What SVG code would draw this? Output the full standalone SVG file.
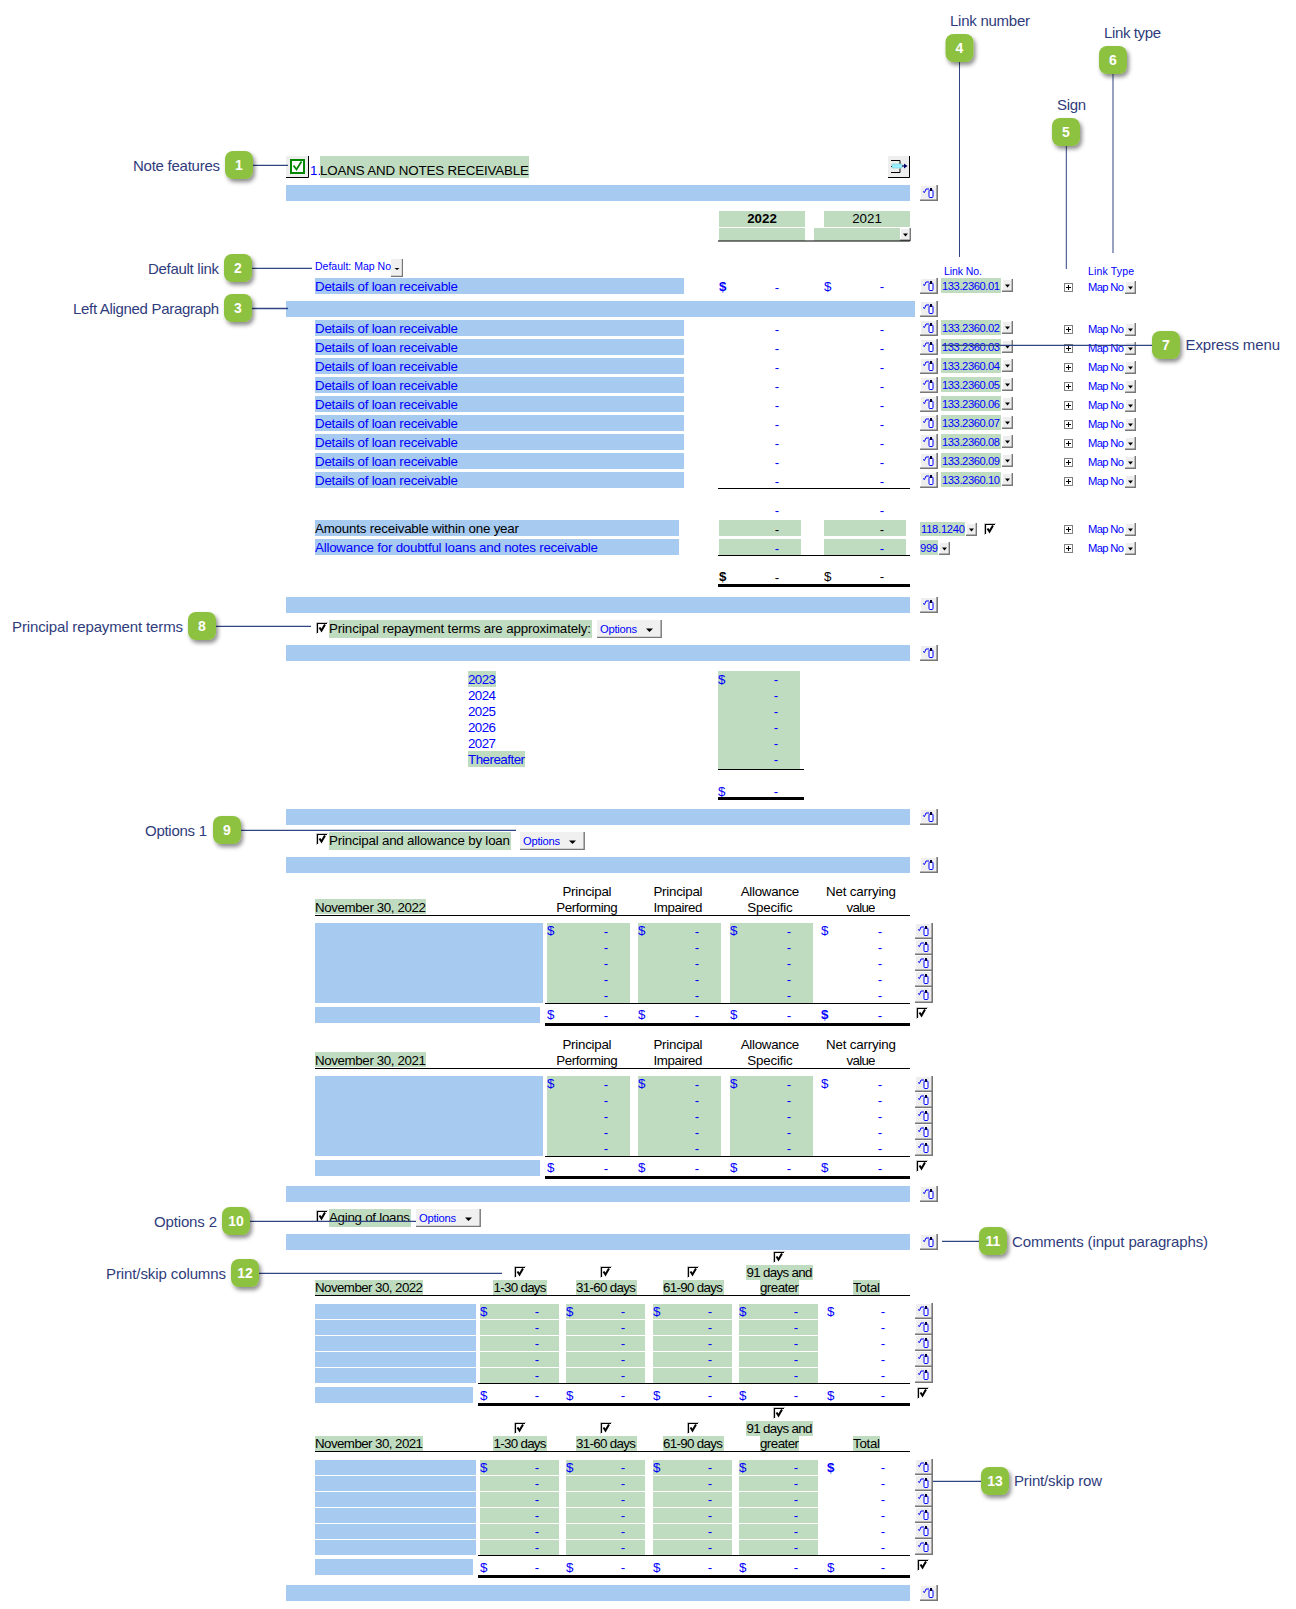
<svg xmlns="http://www.w3.org/2000/svg" width="1296" height="1609" viewBox="0 0 1296 1609">
<style>
text{font-family:"Liberation Sans",Arial,sans-serif;font-size:13.33px;fill:#000}
.b{fill:#00f}
.s{font-size:10.5px;fill:#00f}
.n{font-size:11.2px;fill:#00f}
.l{font-size:15px;fill:#2f3c7c}
.d{fill:#00f;text-anchor:middle}
.k{fill:#000;text-anchor:middle}
.c{text-anchor:middle}
.h{font-weight:bold}
.num{font-size:14px;font-weight:bold;fill:#fff;text-anchor:middle}
.blue{fill:#a6caf0}
.green{fill:#c0dcc0}
.line{fill:#000}
.conn{stroke:#2f4482;stroke-width:1.3;fill:none}
.bub{fill:#8dc13f;filter:url(#sh)}
</style>
<defs>
<filter id="sh" x="-30%" y="-30%" width="170%" height="170%"><feDropShadow dx="2" dy="3" stdDeviation="2" flood-color="#000" flood-opacity=".45"/></filter>
<g id="m"><rect width="18" height="16" fill="#eee"/><path d="M.5 16V.5H18" fill="none" stroke="#fff"/><path d="M0 15.200H17.200V0" fill="none" stroke="#777" stroke-width="1.600"/><path d="M3 6.500l1.500 1 1.500-3.500H9" fill="none" stroke="#00f" stroke-width="1"/><rect x="9" y="5" width="4" height="7.500" rx="1" fill="#fff" stroke="#00f"/><rect x="10" y="3" width="2" height="3" fill="#003"/></g>
<g id="dr"><rect width="11" height="13" fill="#eee"/><path d="M.5 13V.5H11" fill="none" stroke="#fff"/><path d="M0 12.300H10.300V0" fill="none" stroke="#777" stroke-width="1.400"/><path d="M3 5.500h5l-2.500 3z" fill="#000"/></g>
<g id="p"><rect x=".5" y=".5" width="8" height="8" fill="#fff" stroke="#808080"/><path d="M2 4.500h5M4.500 2v5" stroke="#000"/></g>
<g id="ck"><rect width="12" height="12" fill="#fff"/><path d="M.5 12V.5H12" fill="none" stroke="#c8c8c8"/><path d="M1.500 11V1.500H11" fill="none" stroke="#000" stroke-width="1.200"/><path d="M3.500 5.500l2 3 3.500-6" fill="none" stroke="#000" stroke-width="2"/></g>
<g id="agerow"><rect class="blue" x="315" width="161" height="15"/><rect class="green" x="480" width="79" height="15"/><rect class="green" x="566" width="79" height="15"/><rect class="green" x="653" width="79" height="15"/><rect class="green" x="739" width="79" height="15"/></g>
<g id="linkrow"><rect class="green" x="941" width="60" height="15"/><use href="#m" x="920"/><use href="#dr" x="1002" y="1"/><use href="#p" x="1064" y="5"/><use href="#dr" x="1125" y="3"/></g>
<g id="optbtn"><rect width="65" height="18" fill="#f0f0f0"/><path d="M0 17.400H64.200V0" fill="none" stroke="#777" stroke-width="1.400"/><path d="M49 8.500h7l-3.500 3.500z" fill="#000"/></g>
</defs>
<rect width="1296" height="1609" fill="#fff"/>

<g id="sheet-head">
<rect x="286" y="156" width="23" height="22" fill="#eee"/><path d="M308.500 156V177.500H286" fill="none" stroke="#000"/>
<rect x="291" y="160" width="13" height="13" fill="#fff" stroke="#080" stroke-width="2"/><path d="M293.500 165.500l3 4 5-8" fill="none" stroke="#080" stroke-width="1.800"/>
<text class="b" x="310" y="175">1.</text>
<rect class="green" x="320" y="156" width="209" height="22"/>
<text x="320" y="175" textLength="209">LOANS AND NOTES RECEIVABLE</text>
<rect x="888" y="156" width="22" height="22" fill="#eee"/><path d="M909.500 156V177.500H888" fill="none" stroke="#000"/>
<path d="M891 160.500h9v3.500M891 172.500h9v-4M894 166.500h-3" fill="none" stroke="#000"/><rect x="892" y="164" width="10" height="4" fill="#9ef" stroke="#6cc" stroke-width=".5"/><path d="M902 166h3" stroke="#006" stroke-width="1.200"/><path d="M904 163.500l3.500 2.500-3.500 2.500z" fill="#006"/>
<rect class="blue" x="286" y="185" width="624" height="16"/><use href="#m" x="920" y="185"/>
<rect class="green" x="719" y="211" width="86" height="16"/><rect class="green" x="824" y="211" width="86" height="16"/>
<rect class="green" x="719" y="228" width="86" height="13"/><rect class="green" x="814" y="228" width="86" height="13"/>
<use href="#dr" x="900" y="228"/>
<rect class="line" x="718" y="240.500" width="192" height="1"/>
<text class="c h" x="762" y="223">2022</text><text class="c" x="867" y="223">2021</text>
</g>

<g id="details">
<text class="s" x="315" y="270" textLength="76">Default: Map No</text>
<rect x="391" y="259" width="12" height="18" fill="#f0f0f0"/><path d="M391 276.400H402.400V259" fill="none" stroke="#777" stroke-width="1.200"/><path d="M394.500 268h5l-2.500 2z" fill="#000"/>
<text class="s" x="944" y="275" textLength="38">Link No.</text>
<text class="s" x="1088" y="275" textLength="46">Link Type</text>

<rect class="blue" x="315" y="278" width="369" height="16"/>
<text class="b" x="315" y="291" textLength="143">Details of loan receivable</text>
<text class="b h" x="719" y="291">$</text><text class="d" x="777" y="292">-</text><text class="b" x="824" y="291">$</text><text class="d" x="882" y="291">-</text>
<use href="#linkrow" y="278"/><text class="n" x="942" y="290" textLength="58">133.2360.01</text><text class="n" x="1088" y="291" textLength="36">Map No</text>
<rect class="blue" x="286" y="301" width="629" height="16"/><use href="#m" x="920" y="301"/>

<rect class="blue" x="315" y="320" width="369" height="16"/><text class="b" x="315" y="333" textLength="143">Details of loan receivable</text><text class="d" x="777" y="334">-</text><text class="d" x="882" y="334">-</text><use href="#linkrow" y="320"/><text class="n" x="942" y="332" textLength="58">133.2360.02</text><text class="n" x="1088" y="333" textLength="36">Map No</text>
<rect class="blue" x="315" y="339" width="369" height="16"/><text class="b" x="315" y="352" textLength="143">Details of loan receivable</text><text class="d" x="777" y="353">-</text><text class="d" x="882" y="353">-</text><use href="#linkrow" y="339"/><text class="n" x="942" y="351" textLength="58">133.2360.03</text><text class="n" x="1088" y="352" textLength="36">Map No</text>
<rect class="blue" x="315" y="358" width="369" height="16"/><text class="b" x="315" y="371" textLength="143">Details of loan receivable</text><text class="d" x="777" y="372">-</text><text class="d" x="882" y="372">-</text><use href="#linkrow" y="358"/><text class="n" x="942" y="370" textLength="58">133.2360.04</text><text class="n" x="1088" y="371" textLength="36">Map No</text>
<rect class="blue" x="315" y="377" width="369" height="16"/><text class="b" x="315" y="390" textLength="143">Details of loan receivable</text><text class="d" x="777" y="391">-</text><text class="d" x="882" y="391">-</text><use href="#linkrow" y="377"/><text class="n" x="942" y="389" textLength="58">133.2360.05</text><text class="n" x="1088" y="390" textLength="36">Map No</text>
<rect class="blue" x="315" y="396" width="369" height="16"/><text class="b" x="315" y="409" textLength="143">Details of loan receivable</text><text class="d" x="777" y="410">-</text><text class="d" x="882" y="410">-</text><use href="#linkrow" y="396"/><text class="n" x="942" y="408" textLength="58">133.2360.06</text><text class="n" x="1088" y="409" textLength="36">Map No</text>
<rect class="blue" x="315" y="415" width="369" height="16"/><text class="b" x="315" y="428" textLength="143">Details of loan receivable</text><text class="d" x="777" y="429">-</text><text class="d" x="882" y="429">-</text><use href="#linkrow" y="415"/><text class="n" x="942" y="427" textLength="58">133.2360.07</text><text class="n" x="1088" y="428" textLength="36">Map No</text>
<rect class="blue" x="315" y="434" width="369" height="16"/><text class="b" x="315" y="447" textLength="143">Details of loan receivable</text><text class="d" x="777" y="448">-</text><text class="d" x="882" y="448">-</text><use href="#linkrow" y="434"/><text class="n" x="942" y="446" textLength="58">133.2360.08</text><text class="n" x="1088" y="447" textLength="36">Map No</text>
<rect class="blue" x="315" y="453" width="369" height="16"/><text class="b" x="315" y="466" textLength="143">Details of loan receivable</text><text class="d" x="777" y="467">-</text><text class="d" x="882" y="467">-</text><use href="#linkrow" y="453"/><text class="n" x="942" y="465" textLength="58">133.2360.09</text><text class="n" x="1088" y="466" textLength="36">Map No</text>
<rect class="blue" x="315" y="472" width="369" height="16"/><text class="b" x="315" y="485" textLength="143">Details of loan receivable</text><text class="d" x="777" y="486">-</text><text class="d" x="882" y="486">-</text><use href="#linkrow" y="472"/><text class="n" x="942" y="484" textLength="58">133.2360.10</text><text class="n" x="1088" y="485" textLength="36">Map No</text>
<rect class="line" x="718" y="488" width="192" height="1"/>
<text class="d" x="777" y="515">-</text><text class="d" x="882" y="515">-</text>

<rect class="blue" x="315" y="520" width="364" height="16"/><text x="315" y="533" textLength="204">Amounts receivable within one year</text>
<rect class="green" x="719" y="520" width="82" height="16"/><rect class="green" x="824" y="520" width="82" height="16"/><text class="k" x="777" y="534">-</text><text class="k" x="882" y="534">-</text>
<rect class="green" x="920" y="522" width="45" height="14"/><text class="n" x="921" y="533" textLength="44">118.1240</text><use href="#dr" x="966" y="523"/><use href="#ck" x="984" y="523"/><use href="#p" x="1064" y="525"/><text class="n" x="1088" y="533" textLength="36">Map No</text><use href="#dr" x="1125" y="523"/>
<rect class="blue" x="315" y="539" width="364" height="16"/><text class="b" x="315" y="552" textLength="283">Allowance for doubtful loans and notes receivable</text>
<rect class="green" x="719" y="539" width="82" height="16"/><rect class="green" x="824" y="539" width="82" height="16"/><text class="d" x="777" y="553">-</text><text class="d" x="882" y="553">-</text>
<rect class="green" x="920" y="540" width="18" height="15"/><text class="n" x="920" y="552" textLength="18">999</text><use href="#dr" x="939" y="542"/><use href="#p" x="1064" y="544"/><text class="n" x="1088" y="552" textLength="36">Map No</text><use href="#dr" x="1125" y="542"/>
<rect class="line" x="718" y="555" width="192" height="1"/>
<text class="h" x="719" y="581">$</text><text class="k" x="777" y="582">-</text><text x="824" y="581">$</text><text class="k" x="882" y="581">-</text>
<rect class="line" x="718" y="584" width="192" height="3"/>
<rect class="blue" x="286" y="597" width="624" height="16"/><use href="#m" x="920" y="597"/>
</g>

<g id="repayment">
<use href="#ck" x="316" y="622"/>
<rect class="green" x="329" y="620" width="263" height="18"/><text x="329" y="633" textLength="262">Principal repayment terms are approximately:</text>
<use href="#optbtn" x="597" y="620"/><text class="n" x="600" y="633" textLength="37">Options</text>
<rect class="blue" x="286" y="645" width="624" height="16"/><use href="#m" x="920" y="645"/>
<rect class="green" x="468" y="671" width="28" height="16"/><rect class="green" x="468" y="751" width="57" height="16"/>
<text class="b" x="468" y="684" textLength="28">2023</text><text class="b" x="468" y="700" textLength="28">2024</text><text class="b" x="468" y="716" textLength="28">2025</text><text class="b" x="468" y="732" textLength="28">2026</text><text class="b" x="468" y="748" textLength="28">2027</text><text class="b" x="468" y="764" textLength="57">Thereafter</text>
<rect class="green" x="718" y="671" width="82" height="98"/>
<text class="b" x="718" y="684">$</text><text class="d" x="776" y="684">-</text><text class="d" x="776" y="700">-</text><text class="d" x="776" y="716">-</text><text class="d" x="776" y="732">-</text><text class="d" x="776" y="748">-</text><text class="d" x="776" y="764">-</text>
<rect class="line" x="718" y="769" width="86" height="1"/>
<text class="b" x="718" y="796">$</text><text class="d" x="776" y="796">-</text>
<rect class="line" x="718" y="797" width="86" height="3"/>
<rect class="blue" x="286" y="809" width="624" height="16"/><use href="#m" x="920" y="809"/>
</g>

<g id="loans">
<use href="#ck" x="316" y="833"/>
<rect class="green" x="329" y="832" width="182" height="18"/><text x="329" y="845" textLength="181">Principal and allowance by loan</text>
<use href="#optbtn" x="520" y="832"/><text class="n" x="523" y="845" textLength="37">Options</text>
<rect class="blue" x="286" y="857" width="624" height="16"/><use href="#m" x="920" y="857"/>

<text class="c" x="587" y="896" textLength="49">Principal</text><text class="c" x="587" y="912" textLength="61.500">Performing</text><text class="c" x="678" y="896" textLength="49">Principal</text><text class="c" x="678" y="912" textLength="49">Impaired</text><text class="c" x="770" y="896" textLength="58.500">Allowance</text><text class="c" x="770" y="912" textLength="45.500">Specific</text><text class="c" x="861" y="896" textLength="70">Net carrying</text><text class="c" x="861" y="912" textLength="29">value</text>
<rect class="green" x="315" y="899" width="111" height="15"/><text x="315" y="912" textLength="111">November 30, 2022</text>
<rect class="line" x="315" y="915" width="595" height="1"/>
<rect class="blue" x="315" y="923" width="228" height="80"/>
<rect class="green" x="547" y="923" width="83" height="80"/><rect class="green" x="638" y="923" width="83" height="80"/><rect class="green" x="730" y="923" width="83" height="80"/>
<text class="b" x="547" y="935">$</text><text class="b" x="638" y="935">$</text><text class="b" x="730" y="935">$</text><text class="b" x="821" y="935">$</text>
<text class="d" x="606" y="936">-</text><text class="d" x="697" y="936">-</text><text class="d" x="789" y="936">-</text><text class="d" x="880" y="936">-</text>
<text class="d" x="606" y="952">-</text><text class="d" x="697" y="952">-</text><text class="d" x="789" y="952">-</text><text class="d" x="880" y="952">-</text>
<text class="d" x="606" y="968">-</text><text class="d" x="697" y="968">-</text><text class="d" x="789" y="968">-</text><text class="d" x="880" y="968">-</text>
<text class="d" x="606" y="984">-</text><text class="d" x="697" y="984">-</text><text class="d" x="789" y="984">-</text><text class="d" x="880" y="984">-</text>
<text class="d" x="606" y="1000">-</text><text class="d" x="697" y="1000">-</text><text class="d" x="789" y="1000">-</text><text class="d" x="880" y="1000">-</text>
<use href="#m" x="915" y="923"/><use href="#m" x="915" y="939"/><use href="#m" x="915" y="955"/><use href="#m" x="915" y="971"/><use href="#m" x="915" y="987"/>
<rect class="line" x="545" y="1003" width="365" height="1"/>
<rect class="blue" x="315" y="1007" width="225" height="16"/>
<text class="b" x="547" y="1019">$</text><text class="b" x="638" y="1019">$</text><text class="b" x="730" y="1019">$</text><text class="b h" x="821" y="1019">$</text>
<text class="d" x="606" y="1020">-</text><text class="d" x="697" y="1020">-</text><text class="d" x="789" y="1020">-</text><text class="d" x="880" y="1020">-</text>
<rect class="line" x="545" y="1023" width="365" height="3"/><use href="#ck" x="916" y="1007"/>

<text class="c" x="587" y="1049" textLength="49">Principal</text><text class="c" x="587" y="1065" textLength="61.500">Performing</text><text class="c" x="678" y="1049" textLength="49">Principal</text><text class="c" x="678" y="1065" textLength="49">Impaired</text><text class="c" x="770" y="1049" textLength="58.500">Allowance</text><text class="c" x="770" y="1065" textLength="45.500">Specific</text><text class="c" x="861" y="1049" textLength="70">Net carrying</text><text class="c" x="861" y="1065" textLength="29">value</text>
<rect class="green" x="315" y="1052" width="111" height="15"/><text x="315" y="1065" textLength="111">November 30, 2021</text>
<rect class="line" x="315" y="1068" width="595" height="1"/>
<rect class="blue" x="315" y="1076" width="228" height="80"/>
<rect class="green" x="547" y="1076" width="83" height="80"/><rect class="green" x="638" y="1076" width="83" height="80"/><rect class="green" x="730" y="1076" width="83" height="80"/>
<text class="b" x="547" y="1088">$</text><text class="b" x="638" y="1088">$</text><text class="b" x="730" y="1088">$</text><text class="b" x="821" y="1088">$</text>
<text class="d" x="606" y="1089">-</text><text class="d" x="697" y="1089">-</text><text class="d" x="789" y="1089">-</text><text class="d" x="880" y="1089">-</text>
<text class="d" x="606" y="1105">-</text><text class="d" x="697" y="1105">-</text><text class="d" x="789" y="1105">-</text><text class="d" x="880" y="1105">-</text>
<text class="d" x="606" y="1121">-</text><text class="d" x="697" y="1121">-</text><text class="d" x="789" y="1121">-</text><text class="d" x="880" y="1121">-</text>
<text class="d" x="606" y="1137">-</text><text class="d" x="697" y="1137">-</text><text class="d" x="789" y="1137">-</text><text class="d" x="880" y="1137">-</text>
<text class="d" x="606" y="1153">-</text><text class="d" x="697" y="1153">-</text><text class="d" x="789" y="1153">-</text><text class="d" x="880" y="1153">-</text>
<use href="#m" x="915" y="1076"/><use href="#m" x="915" y="1092"/><use href="#m" x="915" y="1108"/><use href="#m" x="915" y="1124"/><use href="#m" x="915" y="1140"/>
<rect class="line" x="545" y="1156" width="365" height="1"/>
<rect class="blue" x="315" y="1160" width="225" height="16"/>
<text class="b" x="547" y="1172">$</text><text class="b" x="638" y="1172">$</text><text class="b" x="730" y="1172">$</text><text class="b" x="821" y="1172">$</text>
<text class="d" x="606" y="1173">-</text><text class="d" x="697" y="1173">-</text><text class="d" x="789" y="1173">-</text><text class="d" x="880" y="1173">-</text>
<rect class="line" x="545" y="1176" width="365" height="3"/><use href="#ck" x="916" y="1160"/>
<rect class="blue" x="286" y="1186" width="624" height="16"/><use href="#m" x="920" y="1186"/>
</g>

<g id="aging">
<use href="#ck" x="316" y="1210"/>
<rect class="green" x="329" y="1209" width="82" height="18"/><text x="329" y="1222" textLength="81">Aging of loans</text>
<use href="#optbtn" x="416" y="1209"/><text class="n" x="419" y="1222" textLength="37">Options</text>
<rect class="blue" x="286" y="1234" width="624" height="16"/><use href="#m" x="920" y="1234"/>

<use href="#ck" x="514" y="1266"/><use href="#ck" x="600" y="1266"/><use href="#ck" x="687" y="1266"/><use href="#ck" x="773" y="1251"/>
<rect class="green" x="315" y="1280" width="108" height="15"/><rect class="green" x="493" y="1280" width="54" height="15"/><rect class="green" x="576" y="1280" width="61" height="15"/><rect class="green" x="663" y="1280" width="61" height="15"/><rect class="green" x="746" y="1265" width="67" height="15"/><rect class="green" x="760" y="1280" width="39" height="15"/><rect class="green" x="853" y="1280" width="27" height="15"/>
<text x="315" y="1292" textLength="108">November 30, 2022</text>
<text class="c" x="520" y="1292" textLength="53">1-30 days</text><text class="c" x="606" y="1292" textLength="60">31-60 days</text><text class="c" x="693" y="1292" textLength="60">61-90 days</text><text class="c" x="779.500" y="1277" textLength="66">91 days and</text><text class="c" x="779.500" y="1292" textLength="39">greater</text><text class="c" x="866.500" y="1292" textLength="27">Total</text>
<rect class="line" x="315" y="1295" width="595" height="1"/>
<use href="#agerow" y="1304"/><use href="#agerow" y="1320"/><use href="#agerow" y="1336"/><use href="#agerow" y="1352"/><use href="#agerow" y="1368"/>
<text class="b" x="480" y="1316">$</text><text class="b" x="566" y="1316">$</text><text class="b" x="653" y="1316">$</text><text class="b" x="739" y="1316">$</text><text class="b" x="827" y="1316">$</text>
<text class="d" x="537" y="1316">-</text><text class="d" x="623" y="1316">-</text><text class="d" x="710" y="1316">-</text><text class="d" x="796" y="1316">-</text><text class="d" x="883" y="1316">-</text>
<text class="d" x="537" y="1332">-</text><text class="d" x="623" y="1332">-</text><text class="d" x="710" y="1332">-</text><text class="d" x="796" y="1332">-</text><text class="d" x="883" y="1332">-</text>
<text class="d" x="537" y="1348">-</text><text class="d" x="623" y="1348">-</text><text class="d" x="710" y="1348">-</text><text class="d" x="796" y="1348">-</text><text class="d" x="883" y="1348">-</text>
<text class="d" x="537" y="1364">-</text><text class="d" x="623" y="1364">-</text><text class="d" x="710" y="1364">-</text><text class="d" x="796" y="1364">-</text><text class="d" x="883" y="1364">-</text>
<text class="d" x="537" y="1380">-</text><text class="d" x="623" y="1380">-</text><text class="d" x="710" y="1380">-</text><text class="d" x="796" y="1380">-</text><text class="d" x="883" y="1380">-</text>
<use href="#m" x="915" y="1303"/><use href="#m" x="915" y="1319"/><use href="#m" x="915" y="1335"/><use href="#m" x="915" y="1351"/><use href="#m" x="915" y="1367"/>
<rect class="line" x="478" y="1383" width="432" height="1"/>
<rect class="blue" x="315" y="1387" width="158" height="16"/>
<text class="b" x="480" y="1400">$</text><text class="b" x="566" y="1400">$</text><text class="b" x="653" y="1400">$</text><text class="b" x="739" y="1400">$</text><text class="b" x="827" y="1400">$</text>
<text class="d" x="537" y="1400">-</text><text class="d" x="623" y="1400">-</text><text class="d" x="710" y="1400">-</text><text class="d" x="796" y="1400">-</text><text class="d" x="883" y="1400">-</text>
<rect class="line" x="478" y="1403" width="432" height="3"/><use href="#ck" x="917" y="1387"/>

<use href="#ck" x="514" y="1422"/><use href="#ck" x="600" y="1422"/><use href="#ck" x="687" y="1422"/><use href="#ck" x="773" y="1407"/>
<rect class="green" x="315" y="1436" width="108" height="15"/><rect class="green" x="493" y="1436" width="54" height="15"/><rect class="green" x="576" y="1436" width="61" height="15"/><rect class="green" x="663" y="1436" width="61" height="15"/><rect class="green" x="746" y="1421" width="67" height="15"/><rect class="green" x="760" y="1436" width="39" height="15"/><rect class="green" x="853" y="1436" width="27" height="15"/>
<text x="315" y="1448" textLength="108">November 30, 2021</text>
<text class="c" x="520" y="1448" textLength="53">1-30 days</text><text class="c" x="606" y="1448" textLength="60">31-60 days</text><text class="c" x="693" y="1448" textLength="60">61-90 days</text><text class="c" x="779.500" y="1433" textLength="66">91 days and</text><text class="c" x="779.500" y="1448" textLength="39">greater</text><text class="c" x="866.500" y="1448" textLength="27">Total</text>
<rect class="line" x="315" y="1451" width="595" height="1"/>
<use href="#agerow" y="1460"/><use href="#agerow" y="1476"/><use href="#agerow" y="1492"/><use href="#agerow" y="1508"/><use href="#agerow" y="1524"/><use href="#agerow" y="1540"/>
<text class="b" x="480" y="1472">$</text><text class="b" x="566" y="1472">$</text><text class="b" x="653" y="1472">$</text><text class="b" x="739" y="1472">$</text><text class="b h" x="827" y="1472">$</text>
<text class="d" x="537" y="1472">-</text><text class="d" x="623" y="1472">-</text><text class="d" x="710" y="1472">-</text><text class="d" x="796" y="1472">-</text><text class="d" x="883" y="1472">-</text>
<text class="d" x="537" y="1488">-</text><text class="d" x="623" y="1488">-</text><text class="d" x="710" y="1488">-</text><text class="d" x="796" y="1488">-</text><text class="d" x="883" y="1488">-</text>
<text class="d" x="537" y="1504">-</text><text class="d" x="623" y="1504">-</text><text class="d" x="710" y="1504">-</text><text class="d" x="796" y="1504">-</text><text class="d" x="883" y="1504">-</text>
<text class="d" x="537" y="1520">-</text><text class="d" x="623" y="1520">-</text><text class="d" x="710" y="1520">-</text><text class="d" x="796" y="1520">-</text><text class="d" x="883" y="1520">-</text>
<text class="d" x="537" y="1536">-</text><text class="d" x="623" y="1536">-</text><text class="d" x="710" y="1536">-</text><text class="d" x="796" y="1536">-</text><text class="d" x="883" y="1536">-</text>
<text class="d" x="537" y="1552">-</text><text class="d" x="623" y="1552">-</text><text class="d" x="710" y="1552">-</text><text class="d" x="796" y="1552">-</text><text class="d" x="883" y="1552">-</text>
<use href="#m" x="915" y="1459"/><use href="#m" x="915" y="1475"/><use href="#m" x="915" y="1491"/><use href="#m" x="915" y="1507"/><use href="#m" x="915" y="1523"/><use href="#m" x="915" y="1539"/>
<rect class="line" x="478" y="1555" width="432" height="1"/>
<rect class="blue" x="315" y="1559" width="158" height="16"/>
<text class="b" x="480" y="1572">$</text><text class="b" x="566" y="1572">$</text><text class="b" x="653" y="1572">$</text><text class="b" x="739" y="1572">$</text><text class="b" x="827" y="1572">$</text>
<text class="d" x="537" y="1572">-</text><text class="d" x="623" y="1572">-</text><text class="d" x="710" y="1572">-</text><text class="d" x="796" y="1572">-</text><text class="d" x="883" y="1572">-</text>
<rect class="line" x="478" y="1575" width="432" height="3"/><use href="#ck" x="917" y="1559"/>
<rect class="blue" x="286" y="1585" width="624" height="16"/><use href="#m" x="920" y="1585"/>
</g>

<g id="connectors" class="conn">
<path d="M253 165.300H288"/><path d="M252 268.300H312"/><path d="M252 308.500H288"/>
<path d="M959.500 62V257" stroke-width="1"/><path d="M1066.300 146V269" stroke-width="1"/><path d="M1113 74V253" stroke-width="1"/>
<path d="M942 345.300H1152"/><path d="M216 626.300H311"/><path d="M241 830.300H516"/>
<path d="M250 1221.300H416"/><path d="M942 1241.300H979"/><path d="M259 1273.300H502"/><path d="M933 1481.300H981"/>
</g>

<g id="n1"><rect class="bub" x="225" y="151" width="28" height="28" rx="8"/><text class="num" x="239" y="170">1</text><text class="l" x="133" y="171" textLength="87">Note features</text></g>
<g id="n2"><rect class="bub" x="224" y="254" width="28" height="28" rx="8"/><text class="num" x="238" y="273">2</text><text class="l" x="148" y="274" textLength="71">Default link</text></g>
<g id="n3"><rect class="bub" x="224" y="294" width="28" height="28" rx="8"/><text class="num" x="238" y="313">3</text><text class="l" x="73" y="314" textLength="146">Left Aligned Paragraph</text></g>
<g id="n4"><rect class="bub" x="945.500" y="34" width="28" height="28" rx="8"/><text class="num" x="959.500" y="53">4</text><text class="l" x="950" y="26" textLength="80">Link number</text></g>
<g id="n5"><rect class="bub" x="1052" y="118" width="28" height="28" rx="8"/><text class="num" x="1066" y="137">5</text><text class="l" x="1057" y="110" textLength="29">Sign</text></g>
<g id="n6"><rect class="bub" x="1099" y="46" width="28" height="28" rx="8"/><text class="num" x="1113" y="65">6</text><text class="l" x="1104" y="38" textLength="57">Link type</text></g>
<g id="n7"><rect class="bub" x="1152" y="331" width="28" height="28" rx="8"/><text class="num" x="1166" y="350">7</text><text class="l" x="1185.500" y="350" textLength="94.500">Express menu</text></g>
<g id="n8"><rect class="bub" x="188" y="612" width="28" height="28" rx="8"/><text class="num" x="202" y="631">8</text><text class="l" x="12" y="632" textLength="171">Principal repayment terms</text></g>
<g id="n9"><rect class="bub" x="213" y="816" width="28" height="28" rx="8"/><text class="num" x="227" y="835">9</text><text class="l" x="145" y="836" textLength="62">Options 1</text></g>
<g id="n10"><rect class="bub" x="222" y="1207" width="28" height="28" rx="8"/><text class="num" x="236" y="1226">10</text><text class="l" x="154" y="1227" textLength="63">Options 2</text></g>
<g id="n11"><rect class="bub" x="979" y="1227" width="28" height="28" rx="8"/><text class="num" x="993" y="1246">11</text><text class="l" x="1012" y="1246.500" textLength="196">Comments (input paragraphs)</text></g>
<g id="n12"><rect class="bub" x="231" y="1259" width="28" height="28" rx="8"/><text class="num" x="245" y="1278">12</text><text class="l" x="106" y="1279" textLength="120">Print/skip columns</text></g>
<g id="n13"><rect class="bub" x="981" y="1467" width="28" height="28" rx="8"/><text class="num" x="995" y="1486">13</text><text class="l" x="1014" y="1486" textLength="88">Print/skip row</text></g>
</svg>
